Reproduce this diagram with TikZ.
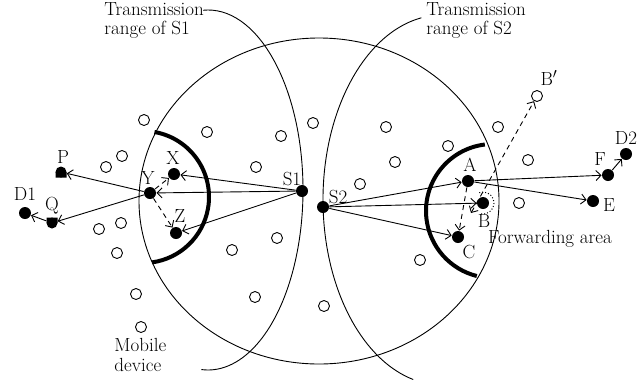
\documentclass[tikz,border=0pt]{standalone}
\usetikzlibrary{arrows.meta}
\begin{document}
\begin{tikzpicture}[x=1pt,y=-1pt, line width=0.9pt,
 dev/.style={circle,fill=black,inner sep=0pt,minimum size=12pt},
 mob/.style={circle,draw,line width=0.9pt,inner sep=0pt,minimum size=11pt},
 lab/.style={inner sep=0pt, font=\fontsize{19}{19.5}\selectfont},
 arr/.style={-{Straight Barb[length=5pt,width=10pt]}, line width=0.9pt},
 darr/.style={arr, dash pattern=on 5pt off 4pt},
 farea/.style={line width=4pt},
 rng/.style={line width=0.9pt}]
\useasboundingbox (0,0) rectangle (644,381);

% big area
\draw[rng] (319,201) ellipse [x radius=180pt, y radius=163pt];
% transmission ranges
\draw[rng] (208,190) ++(93:95pt and 180pt) arc[start angle=93, end angle=-94, x radius=95pt, y radius=180pt];
\draw[rng] (442,200) ++(100:119pt and 185pt) arc[start angle=100, end angle=256, x radius=119pt, y radius=185pt];

% forwarding areas
\draw[farea] (143,197) ++(80:66pt) arc[start angle=80, end angle=-82, radius=66pt];
\draw[farea] (493,211) ++(97:67pt) arc[start angle=97, end angle=256, radius=67pt];

% mobile devices
\foreach \p in {(144,120),(207,132),(281,136),(313,123),(122,156),(106,167),(256,167),(121,223),(99,229),(117,253),(232,250),(277,238),(136,294),(141,327),(255,297),(324,306),(386,127),(448,146),(395,162),(360,184),(498,127),(528,160),(519,203),(420,260)}
  \node[mob] at \p {};

% active devices
\node[dev] (S1) at (302,191) {};
\node[dev] (S2) at (323,207) {};
\node[dev] (X) at (174,174) {};
\node[dev] (Y) at (150,193) {};
\node[dev] (Z) at (176,233) {};
\node[dev, minimum size=11pt] (P) at (61,172) {};
\fill (P.center) rectangle ++(-5.5,5.5) (P.center) rectangle ++(5.5,5.5);
\node[dev, minimum size=11pt] (Q) at (52,223) {};
\fill (Q.center) rectangle ++(-5.5,-5.5) (Q.center) rectangle ++(5.5,-5.5);
\node[dev] (D1) at (25,213) {};
\node[dev] (A) at (468,181) {};
\node[dev] (B) at (483,203) {};
\node[dev] (C) at (458,237) {};
\node[dev] (E) at (593,201) {};
\node[dev] (F) at (608,175) {};
\node[dev] (D2) at (626,154) {};
\node[mob] (Bp) at (537,96) {};
\coordinate (b0) at (471,213);
\draw[dotted, line width=1pt] (B) ++(110:11pt) arc[start angle=110, end angle=-100, radius=11pt];

% labels
\node[lab, anchor=north west, align=left] (t1) at (104,2) {Transmission\\range of S1};
\node[lab, anchor=north west, align=left] (t2) at (426,2) {Transmission\\range of S2};
\node[lab, anchor=north west, align=left] (md) at (114,338) {Mobile\\device};
\node[lab] (fa) at (550,239) {Forwarding area};
\node[lab] at (292,179) {S1};
\node[lab] at (338,197) {S2};
\node[lab] at (173,158) {X};
\node[lab] at (148,178) {Y};
\node[lab] at (180,216) {Z};
\node[lab] at (63,157) {P};
\node[lab] at (52,206) {Q};
\node[lab] at (25,194) {D1};
\node[lab] at (470,165) {A};
\node[lab] at (484,221) {B};
\node[lab] at (469,252) {C};
\node[lab] at (609,205) {E};
\node[lab] at (600,159) {F};
\node[lab] at (626,138) {D2};
\node[lab] at (549,78) {B$'$};

% connectors
\draw[arr] (S1) -- (X);
\draw[arr] (S1) -- (Y);
\draw[arr] (S1) -- (Z);
\draw[arr] (Y) -- (P);
\draw[arr] (Y) -- (Q);
\draw[arr] (Q) -- (D1);
\draw[darr] (Y) -- (X);
\draw[darr] (Y) -- (Z);
\draw[arr] (S2) -- (A);
\draw[arr] (S2) -- (B);
\draw[arr] (S2) -- (C);
\draw[arr] (A) -- (F);
\draw[arr] (A) -- (E);
\draw[arr] (F) -- (D2);
\draw[darr] (A) -- (C);
\draw[darr, {Straight Barb[length=5pt,width=10pt]}-{Straight Barb[length=5pt,width=10pt]}] (b0) -- (Bp);
\end{tikzpicture}
\end{document}
